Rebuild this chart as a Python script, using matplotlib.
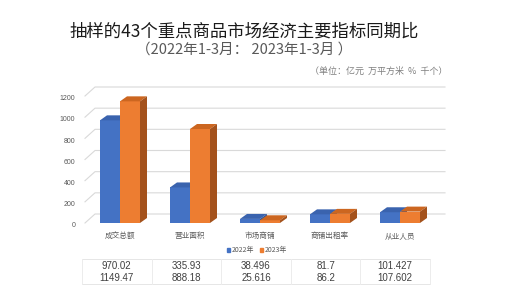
import numpy as np
import matplotlib.pyplot as plt
from matplotlib.patches import Polygon, Patch
from matplotlib.lines import Line2D

plt.rcParams['font.family'] = ['Noto Sans CJK SC', 'DejaVu Sans']

categories = ['成交总额', '营业面积', '市场商铺', '商铺出租率', '从业人员']
v2022 = [970.02, 335.93, 38.496, 81.7, 101.427]
v2023 = [1149.47, 888.18, 25.616, 86.2, 107.602]
yticks = [0, 200, 400, 600, 800, 1000, 1200]
series = ['2022年', '2023年']

W, H = 509, 303
fig = plt.figure(figsize=(W / 100, H / 100), dpi=100)
# axes in pixels: left 85, width 350, front floor at y=223 from top
ax_l, ax_b, ax_w, ax_h = 85, 80, 350, 127
ax = fig.add_axes([ax_l / W, ax_b / H, ax_w / W, ax_h / H])
ax.set_xlim(-0.5, 4.5)
ax.set_ylim(0, 1200)
ax.axis('off')

px_x = 5 / ax_w       # data units per pixel
px_y = 1200 / ax_h

# back wall gridlines (slanted at the left)
wdx, wdy = 10 * px_x, 9 * px_y
for t in yticks:
    ax.plot([-0.5, -0.5 + wdx, 4.5 + wdx], [t, t + wdy, t + wdy],
            color='#d9d9d9', lw=0.8, clip_on=False, zorder=1)
    ax.annotate(str(t), (-0.5, t), xytext=(-7, -2), textcoords='offset points',
                ha='right', va='center', fontsize=5, color='#595959',
                family='Liberation Sans', annotation_clip=False)

# 3D-looking bars
bw = 20 * px_x
ddx, ddy = 7 * px_x, 5 * px_y
faces = [('#4472C4', '#3A63AE', '#2F5597'), ('#ED7D31', '#CC6620', '#A4521C')]
x = np.arange(len(categories))
for k, vals in enumerate([v2022, v2023]):
    front, top, side = faces[k]
    x0s = x - bw + k * bw
    ax.bar(x0s, vals, width=bw, align='edge', color=front, zorder=3 + k, clip_on=False)
    for x0, h in zip(x0s, vals):
        ax.add_patch(Polygon([(x0, h), (x0 + bw, h), (x0 + bw + ddx, h + ddy), (x0 + ddx, h + ddy)],
                             closed=True, facecolor=top, edgecolor='none', zorder=3 + k, clip_on=False))
        ax.add_patch(Polygon([(x0 + bw, 0), (x0 + bw + ddx, ddy), (x0 + bw + ddx, h + ddy), (x0 + bw, h)],
                             closed=True, facecolor=side, edgecolor='none', zorder=3 + k, clip_on=False))

for i, c in enumerate(categories):
    ax.annotate(c, (i, 0), xytext=(0, -9.5), textcoords='offset points',
                ha='center', va='center', fontsize=5.5, color='#595959', annotation_clip=False)

# legend
handles = [Patch(color=faces[0][0]), Patch(color=faces[1][0])]
fig.legend(handles, series, loc='center', bbox_to_anchor=(257 / W, 1 - 250 / H), ncol=2,
           frameon=False, fontsize=5, handlelength=0.5, handleheight=0.5, handletextpad=0.2,
           columnspacing=0.8, labelcolor='#595959')

# titles
fig.text(244 / W, 1 - 32 / H, '抽样的43个重点商品市场经济主要指标同期比', ha='center', va='center',
         fontsize=12.5, color='#1a1a1a')
fig.text(244 / W, 1 - 50 / H, '（2022年1-3月： 2023年1-3月 ）', ha='center', va='center',
         fontsize=10.5, color='#595959')
fig.text(447 / W, 1 - 71 / H, '（单位：亿元  万平方米  %  千个）', ha='right', va='center',
         fontsize=6.5, color='#7f7f7f')

# data table below the chart
t_left, t_right = 82, 430
t_top, t_bot = 259, 284
col_w = (t_right - t_left) / len(categories)
rows_y = [266, 278]
for r, vals in zip(rows_y, [v2022, v2023]):
    for i, v in enumerate(vals):
        fig.text((t_left + col_w * (i + 0.5)) / W, 1 - r / H, f'{v:g}', ha='center', va='center',
                 fontsize=7, color='#404040', family='Liberation Sans')
for yy in [t_top, t_bot]:
    fig.add_artist(Line2D([t_left / W, t_right / W], [1 - yy / H, 1 - yy / H], color='#e6e6e6', lw=0.7))
for i in range(len(categories) + 1):
    xx = (t_left + col_w * i) / W
    fig.add_artist(Line2D([xx, xx], [1 - t_top / H, 1 - t_bot / H], color='#ececec', lw=0.7))

fig.savefig('out.png', dpi=100)
